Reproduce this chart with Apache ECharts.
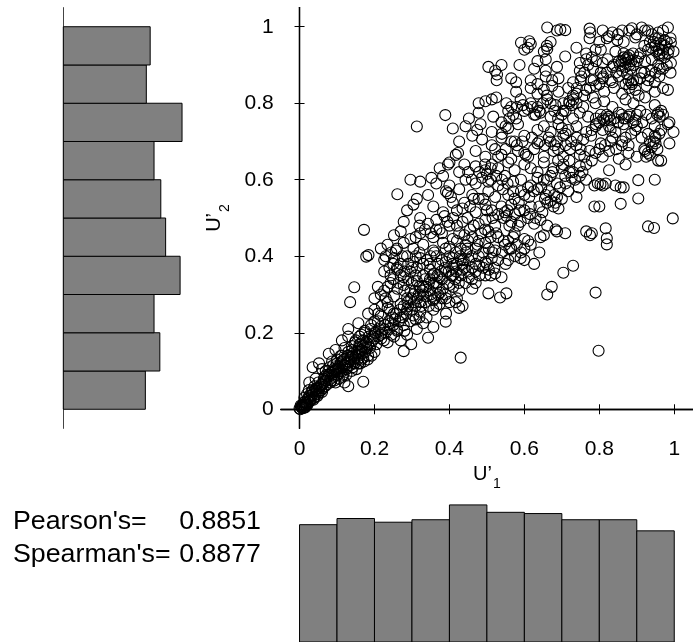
<!DOCTYPE html>
<html><head><meta charset="utf-8">
<script src="https://cdn.jsdelivr.net/npm/echarts@6/dist/echarts.min.js"></script>
<style>html,body{margin:0;padding:0;background:#fff}#c{width:693px;height:642px}</style>
</head><body><div id="c"></div>
<script>
const xTicks=[0,0.2,0.4,0.6,0.8,1];
const yTicks=[0,0.2,0.4,0.6,0.8,1];
const binEdges=[0,0.1,0.2,0.3,0.4,0.5,0.6,0.7,0.8,0.9,1];
const histU2=[85,100,94,121,106,101,94,123,86,90];
const histU1=[95,100,97,99,111,105,104,99,99,90];
const pearsonLabel="Pearson's=", pearsonValue="0.8851";
const spearmanLabel="Spearman's=", spearmanValue="0.8877";

const ptsTop=[[0.661,0.998],[0.687,0.99],[0.696,0.993],[0.709,0.991],[0.774,0.995],[0.776,0.985],[0.809,0.99],[0.835,0.985],[0.861,0.99],[0.887,0.996],[0.913,0.998],[0.922,0.99],[0.957,0.985],[0.983,0.998],[0.97,0.99],
[0.591,0.958],[0.613,0.962],[0.617,0.955],[0.67,0.96],[0.774,0.97],[0.826,0.975],[0.848,0.965],[0.896,0.972],[0.935,0.96],[0.957,0.97],[0.974,0.965],[0.991,0.958],[0.66,0.95],[0.865,0.96],
[0.6,0.94],[0.609,0.945],[0.652,0.935],[0.661,0.942],[0.739,0.945],[0.765,0.93],[0.804,0.94],[0.843,0.935],[0.865,0.93],[0.939,0.945],[0.952,0.935],[0.97,0.94],[0.983,0.93],[0.998,0.935],[0.96,0.925],[0.975,0.95],
[0.635,0.91],[0.657,0.915],[0.709,0.922],[0.748,0.905],[0.765,0.915],[0.791,0.91],[0.809,0.905],[0.822,0.915],[0.839,0.9],[0.852,0.91],[0.865,0.92],[0.87,0.905],[0.878,0.915],[0.891,0.9],[0.904,0.92],[0.922,0.91],[0.957,0.9],[0.974,0.92],[0.991,0.905],[0.87,0.895],[0.88,0.925],[0.96,0.93],[0.94,0.915],
[0.504,0.895],[0.522,0.885],[0.539,0.9],[0.527,0.875],[0.587,0.9],[0.626,0.89],[0.657,0.885],[0.687,0.895],[0.748,0.885],[0.783,0.89],[0.804,0.88],[0.835,0.895],[0.861,0.885],[0.883,0.89],[0.913,0.88],[0.939,0.885],[0.961,0.89],[0.875,0.875],
[0.526,0.86],[0.565,0.865],[0.578,0.855],[0.617,0.86],[0.635,0.85],[0.657,0.87],[0.674,0.86],[0.691,0.865],[0.73,0.855],[0.752,0.87],[0.778,0.86],[0.809,0.865],[0.835,0.855],[0.852,0.87],[0.878,0.86],[0.887,0.85],[0.909,0.865],[0.935,0.87],[0.948,0.855],[0.983,0.835],[0.885,0.855],[0.89,0.86],
[0.578,0.83],[0.617,0.84],[0.635,0.825],[0.652,0.835],[0.674,0.845],[0.691,0.83],[0.717,0.84],[0.739,0.825],[0.765,0.835],[0.791,0.845],[0.813,0.83],[0.839,0.84],[0.861,0.825],[0.896,0.835],[0.926,0.845],[0.948,0.83],[0.97,0.84],[0.905,0.82],
[0.478,0.8],[0.496,0.805],[0.513,0.81],[0.525,0.815],[0.552,0.8],[0.565,0.79],[0.596,0.795],[0.617,0.8],[0.635,0.79],[0.661,0.81],[0.683,0.795],[0.704,0.8],[0.72,0.805],[0.726,0.795],[0.73,0.81],[0.739,0.8],[0.757,0.79],[0.783,0.815],[0.79,0.8],[0.813,0.805],[0.835,0.79],[0.87,0.81],[0.891,0.8],[0.922,0.815],[0.948,0.795],
[0.76,0.82],[0.775,0.84],[0.785,0.86],[0.8,0.85],[0.81,0.87],[0.82,0.88],[0.83,0.86],[0.845,0.88],[0.855,0.9],[0.86,0.91],[0.87,0.915],[0.875,0.92],[0.88,0.9],[0.885,0.91],[0.89,0.93],[0.9,0.91],[0.91,0.93],[0.92,0.95],[0.93,0.94],[0.945,0.96],[0.95,0.95],[0.96,0.94],[0.965,0.955],[0.97,0.93],[0.98,0.96],[0.985,0.94],[0.99,0.97],[0.95,0.97],[0.94,0.98],[0.93,0.99],[0.9,0.98],[0.88,0.99],[0.85,0.98],[0.82,0.97],[0.8,0.96],[0.79,0.94],[0.78,0.92],[0.77,0.9],[0.76,0.88],[0.75,0.86],[0.74,0.84],[0.73,0.82],[0.72,0.8],[0.71,0.78],[0.67,0.8],[0.66,0.82],[0.65,0.8],[0.59,0.81],
[0.87,0.85],[0.88,0.84],[0.9,0.86],[0.92,0.88],[0.93,0.86],[0.95,0.88],[0.96,0.87],[0.97,0.89],[0.98,0.9],[0.99,0.88]];

const ptsUpperMid=[[0.389,0.769],[0.452,0.76],[0.478,0.775],[0.517,0.765],[0.557,0.78],[0.578,0.76],[0.609,0.785],[0.626,0.77],[0.643,0.775],[0.67,0.765],[0.704,0.78],[0.73,0.76],[0.748,0.775],[0.77,0.765],[0.791,0.76],[0.804,0.77],[0.813,0.755],[0.826,0.765],[0.852,0.775],[0.865,0.76],[0.878,0.765],[0.896,0.755],[0.909,0.78],[0.957,0.775],[0.961,0.765],[0.97,0.77],[0.987,0.75],[0.82,0.76],[0.83,0.755],
[0.313,0.739],[0.409,0.734],[0.443,0.74],[0.474,0.73],[0.483,0.745],[0.513,0.725],[0.539,0.75],[0.557,0.735],[0.583,0.745],[0.635,0.73],[0.652,0.74],[0.67,0.725],[0.691,0.745],[0.717,0.73],[0.739,0.74],[0.765,0.725],[0.791,0.745],[0.809,0.73],[0.826,0.74],[0.843,0.725],[0.865,0.745],[0.896,0.73],[0.93,0.72],[0.948,0.74],[0.965,0.73],[0.983,0.745],[0.998,0.725],[0.7,0.735],[0.71,0.72],
[0.426,0.7],[0.461,0.715],[0.487,0.705],[0.513,0.69],[0.539,0.71],[0.574,0.7],[0.6,0.715],[0.635,0.695],[0.665,0.71],[0.687,0.7],[0.704,0.715],[0.739,0.69],[0.757,0.705],[0.778,0.715],[0.804,0.695],[0.835,0.71],[0.861,0.7],[0.878,0.69],[0.913,0.71],[0.935,0.7],[0.948,0.715],[0.987,0.695],[0.94,0.685],[0.95,0.695],
[0.417,0.665],[0.423,0.67],[0.47,0.675],[0.496,0.66],[0.522,0.68],[0.539,0.665],[0.565,0.655],[0.583,0.675],[0.604,0.665],[0.626,0.68],[0.652,0.66],[0.678,0.675],[0.704,0.66],[0.722,0.68],[0.748,0.665],[0.774,0.675],[0.809,0.66],[0.826,0.675],[0.852,0.655],[0.878,0.67],[0.9,0.66],[0.922,0.675],[0.935,0.665],[0.957,0.65],[0.6,0.67],[0.61,0.66],
[0.374,0.63],[0.396,0.64],[0.4,0.645],[0.426,0.62],[0.47,0.635],[0.496,0.625],[0.513,0.64],[0.53,0.63],[0.557,0.645],[0.574,0.625],[0.6,0.64],[0.617,0.63],[0.635,0.62],[0.652,0.645],[0.678,0.63],[0.704,0.64],[0.73,0.62],[0.748,0.635],[0.826,0.625],[0.87,0.64],[0.965,0.65],[0.5,0.615],[0.51,0.6],
[0.7,0.77],[0.69,0.76],[0.68,0.78],[0.64,0.78],[0.63,0.77],[0.62,0.79],[0.6,0.78],[0.58,0.79],[0.57,0.77],[0.56,0.76],[0.55,0.74],[0.54,0.72],
[0.86,0.77],[0.87,0.76],[0.88,0.77],[0.89,0.75],[0.9,0.77],[0.84,0.76],[0.85,0.75],[0.83,0.73],[0.82,0.77],[0.81,0.76],[0.8,0.75],[0.79,0.74],[0.78,0.73],[0.95,0.71],[0.96,0.72],[0.945,0.7],[0.955,0.68],[0.92,0.68],[0.925,0.66],[0.93,0.67],
[0.53,0.66],[0.55,0.68],[0.565,0.7],[0.58,0.69],[0.595,0.7],[0.62,0.71],[0.64,0.7],[0.655,0.69],[0.67,0.7],[0.68,0.69],[0.69,0.68],[0.71,0.69],[0.725,0.7],[0.74,0.71],[0.75,0.68],[0.76,0.66],[0.78,0.65],[0.79,0.67],[0.8,0.68],[0.815,0.69],[0.83,0.7],[0.845,0.68],[0.86,0.69],[0.87,0.71],[0.885,0.72],[0.9,0.74],[0.915,0.75],[0.925,0.77],[0.94,0.76],[0.955,0.77],[0.965,0.78]];

const ptsMiddle=[[0.296,0.6],[0.322,0.595],[0.352,0.605],[0.365,0.59],[0.383,0.61],[0.4,0.585],[0.443,0.6],[0.47,0.59],[0.487,0.605],[0.504,0.595],[0.53,0.585],[0.548,0.61],[0.57,0.595],[0.591,0.6],[0.617,0.585],[0.635,0.605],[0.652,0.6],[0.67,0.61],[0.687,0.59],[0.709,0.61],[0.726,0.605],[0.748,0.61],[0.765,0.6],[0.787,0.585],[0.796,0.59],[0.803,0.588],[0.809,0.585],[0.817,0.59],[0.843,0.585],[0.857,0.58],[0.865,0.58],[0.904,0.599],[0.948,0.6],
[0.261,0.562],[0.313,0.55],[0.343,0.56],[0.391,0.57],[0.396,0.565],[0.404,0.555],[0.426,0.575],[0.461,0.56],[0.478,0.55],[0.504,0.57],[0.522,0.555],[0.543,0.575],[0.557,0.56],[0.574,0.55],[0.591,0.57],[0.613,0.555],[0.635,0.575],[0.657,0.56],[0.67,0.545],[0.687,0.555],[0.7,0.55],[0.717,0.57],[0.739,0.555],[0.787,0.53],[0.8,0.53],[0.904,0.551],
[0.287,0.52],[0.304,0.535],[0.357,0.53],[0.383,0.515],[0.409,0.54],[0.435,0.525],[0.47,0.515],[0.496,0.535],[0.513,0.52],[0.539,0.53],[0.548,0.515],[0.555,0.52],[0.565,0.535],[0.587,0.52],[0.617,0.53],[0.648,0.515],[0.661,0.54],[0.678,0.53],[0.683,0.54],[0.691,0.525],[0.857,0.537],
[0.278,0.49],[0.322,0.5],[0.343,0.485],[0.365,0.495],[0.387,0.505],[0.4,0.48],[0.448,0.5],[0.478,0.485],[0.496,0.495],[0.522,0.48],[0.552,0.505],[0.565,0.49],[0.583,0.48],[0.609,0.5],[0.626,0.485],[0.643,0.495],[0.661,0.48],[0.683,0.47],[0.709,0.46],[0.817,0.473],[0.93,0.478],[0.946,0.474],[0.996,0.499],[0.765,0.465],[0.775,0.455],[0.78,0.46],
[0.172,0.469],[0.252,0.455],[0.27,0.465],[0.296,0.445],[0.322,0.46],[0.357,0.45],[0.374,0.47],[0.409,0.445],[0.426,0.46],[0.461,0.45],[0.478,0.44],[0.504,0.465],[0.53,0.45],[0.557,0.44],[0.574,0.46],[0.6,0.445],[0.643,0.45],[0.652,0.455],[0.687,0.465],[0.82,0.447],[0.82,0.431],[0.44,0.455],[0.45,0.44],
[0.42,0.52],[0.44,0.54],[0.455,0.53],[0.465,0.55],[0.49,0.55],[0.5,0.52],[0.515,0.5],[0.53,0.51],[0.545,0.5],[0.56,0.48],[0.575,0.51],[0.59,0.49],[0.6,0.52],[0.615,0.51],[0.63,0.5],[0.64,0.53],[0.655,0.55],[0.665,0.57],[0.68,0.56],[0.695,0.58],[0.71,0.59],[0.72,0.62],[0.735,0.6],[0.745,0.58],[0.755,0.62],[0.765,0.64],[0.72,0.65],[0.7,0.63],[0.69,0.65],[0.675,0.62],[0.66,0.6],[0.645,0.58],[0.625,0.57],[0.61,0.58],[0.6,0.56],[0.585,0.54],[0.57,0.57],[0.555,0.59],[0.54,0.6],[0.525,0.61],[0.51,0.63],[0.495,0.64],[0.48,0.62],[0.46,0.6],[0.45,0.62],[0.44,0.64],
[0.57,0.45],[0.545,0.44],[0.525,0.46],[0.51,0.45],[0.495,0.47],[0.485,0.46],[0.465,0.48],[0.455,0.47],[0.435,0.49],[0.42,0.48],[0.41,0.5],[0.395,0.49],[0.38,0.46],[0.365,0.47],[0.35,0.46],[0.335,0.47],[0.32,0.48],[0.31,0.45]];

const ptsLowerMid=[[0.217,0.42],[0.235,0.43],[0.257,0.415],[0.278,0.435],[0.304,0.42],[0.33,0.43],[0.357,0.415],[0.383,0.435],[0.4,0.425],[0.417,0.41],[0.443,0.43],[0.47,0.42],[0.496,0.435],[0.522,0.415],[0.548,0.43],[0.565,0.42],[0.591,0.41],[0.617,0.43],[0.64,0.41],[0.42,0.44],[0.43,0.42],
[0.178,0.399],[0.184,0.403],[0.226,0.39],[0.252,0.395],[0.27,0.38],[0.287,0.4],[0.304,0.385],[0.322,0.395],[0.348,0.38],[0.365,0.4],[0.391,0.385],[0.409,0.395],[0.435,0.38],[0.452,0.39],[0.478,0.4],[0.496,0.385],[0.513,0.395],[0.557,0.39],[0.59,0.395],[0.6,0.39],[0.626,0.38],[0.73,0.375],[0.46,0.37],[0.47,0.38],[0.48,0.375],
[0.226,0.36],[0.243,0.35],[0.261,0.365],[0.278,0.345],[0.296,0.36],[0.313,0.37],[0.33,0.35],[0.348,0.365],[0.374,0.345],[0.391,0.36],[0.409,0.35],[0.435,0.365],[0.452,0.345],[0.47,0.36],[0.496,0.35],[0.505,0.365],[0.522,0.355],[0.539,0.345],[0.704,0.357],[0.36,0.355],
[0.146,0.319],[0.209,0.32],[0.226,0.31],[0.243,0.33],[0.261,0.315],[0.278,0.325],[0.296,0.31],[0.313,0.335],[0.33,0.32],[0.348,0.31],[0.365,0.33],[0.383,0.315],[0.4,0.325],[0.426,0.31],[0.443,0.33],[0.461,0.315],[0.673,0.32],[0.79,0.305],[0.375,0.305],[0.39,0.3],[0.41,0.32],
[0.235,0.32],[0.25,0.34],[0.265,0.33],[0.28,0.31],[0.29,0.34],[0.3,0.33],[0.31,0.35],[0.32,0.32],[0.335,0.34],[0.345,0.33],[0.355,0.35],[0.365,0.32],[0.38,0.34],[0.395,0.33],[0.405,0.35],[0.415,0.34],[0.425,0.33],[0.43,0.35],[0.44,0.37],[0.45,0.36],[0.46,0.34],[0.47,0.33],[0.48,0.35],[0.49,0.37],[0.5,0.38],[0.51,0.35],[0.52,0.37],[0.53,0.39],[0.515,0.41],[0.505,0.42],[0.49,0.41],[0.475,0.43],[0.46,0.4],[0.445,0.41],[0.43,0.39],[0.42,0.38],[0.41,0.37],[0.4,0.4],[0.39,0.42],[0.38,0.39],[0.37,0.38],[0.36,0.41],[0.35,0.4],[0.34,0.39],[0.33,0.38],[0.32,0.41],[0.31,0.4],[0.3,0.37],[0.29,0.38],[0.28,0.36],[0.27,0.35],[0.26,0.37],[0.25,0.38],[0.24,0.37],[0.23,0.4],[0.245,0.41],[0.26,0.42],[0.275,0.4],[0.54,0.41],[0.55,0.38],[0.56,0.42],[0.575,0.4],[0.58,0.43],[0.6,0.42],[0.61,0.44]];

const ptsLow=[[0.135,0.28],[0.2,0.29],[0.217,0.3],[0.235,0.28],[0.252,0.295],[0.27,0.275],[0.287,0.29],[0.304,0.3],[0.322,0.28],[0.339,0.295],[0.357,0.285],[0.374,0.275],[0.391,0.29],[0.417,0.28],[0.435,0.27],[0.504,0.303],[0.535,0.292],[0.552,0.303],[0.661,0.3],[0.4,0.28],[0.42,0.29],
[0.183,0.25],[0.2,0.26],[0.217,0.245],[0.235,0.265],[0.252,0.25],[0.27,0.24],[0.287,0.26],[0.304,0.245],[0.322,0.255],[0.339,0.24],[0.357,0.26],[0.391,0.25],[0.426,0.265],[0.31,0.235],[0.32,0.24],
[0.13,0.21],[0.157,0.225],[0.174,0.205],[0.191,0.22],[0.209,0.23],[0.226,0.21],[0.243,0.225],[0.261,0.205],[0.278,0.22],[0.296,0.23],[0.313,0.21],[0.33,0.225],[0.357,0.215],[0.39,0.229],[0.2,0.2],[0.215,0.215],
[0.113,0.18],[0.13,0.19],[0.148,0.175],[0.165,0.195],[0.183,0.17],[0.2,0.185],[0.217,0.195],[0.235,0.175],[0.252,0.19],[0.27,0.18],[0.287,0.195],[0.298,0.17],[0.343,0.187],[0.14,0.165],[0.16,0.17],[0.17,0.18],
[0.078,0.145],[0.096,0.155],[0.113,0.14],[0.13,0.15],[0.148,0.135],[0.165,0.155],[0.183,0.14],[0.2,0.15],[0.278,0.152],[0.43,0.135],[0.12,0.16],[0.14,0.145],[0.155,0.13],[0.17,0.135],[0.798,0.153],
[0.035,0.11],[0.052,0.12],[0.07,0.1],[0.087,0.125],[0.104,0.105],[0.122,0.115],[0.139,0.1],[0.157,0.12],[0.06,0.105],[0.08,0.11],[0.095,0.1],[0.11,0.12],[0.13,0.125],[0.1,0.13],[0.09,0.115],
[0.026,0.07],[0.043,0.08],[0.061,0.065],[0.078,0.09],[0.096,0.07],[0.113,0.085],[0.13,0.06],[0.17,0.072],[0.05,0.07],[0.065,0.08],[0.085,0.075],[0.1,0.09],[0.12,0.07],[0.04,0.06],[0.07,0.075],
[0.013,0.03],[0.02,0.04],[0.026,0.035],[0.035,0.05],[0.043,0.04],[0.052,0.055],[0.06,0.045],[0.03,0.025],[0.04,0.03],[0.05,0.04],[0.025,0.05],[0.015,0.02],
[0,0.002],[0.005,0.005],[0.01,0.008],[0.015,0.012],[0.02,0.015],[0.008,0.003],[0.003,0.01],[0.012,0.018],[0.018,0.01],[0.025,0.02],
[0.085,0.095],[0.095,0.11],[0.105,0.095],[0.115,0.1],[0.125,0.105],[0.118,0.13],[0.128,0.14],[0.135,0.115],[0.145,0.125],[0.15,0.14],[0.16,0.15],[0.165,0.13],[0.175,0.15],[0.18,0.16],[0.19,0.17],[0.185,0.19],[0.195,0.18],[0.205,0.17],[0.21,0.19],[0.22,0.2],[0.225,0.18],[0.23,0.2],[0.24,0.21],[0.245,0.195],[0.25,0.22],[0.255,0.235],[0.26,0.21],[0.265,0.23],[0.275,0.24],[0.28,0.205],[0.285,0.25],[0.29,0.27],[0.3,0.26],[0.305,0.28],[0.31,0.27],[0.315,0.29],[0.325,0.27],[0.33,0.3],[0.335,0.28],[0.345,0.27],[0.35,0.3],[0.36,0.29],[0.365,0.27],[0.37,0.3],[0.38,0.29],[0.24,0.26],[0.23,0.29],[0.22,0.27],[0.21,0.25],[0.2,0.23],[0.19,0.21],[0.175,0.2],[0.16,0.19],[0.15,0.18],[0.14,0.155],[0.13,0.14],[0.12,0.13],[0.11,0.14],[0.1,0.12],[0.09,0.1],[0.075,0.085],[0.065,0.07],[0.055,0.06],[0.045,0.055],[0.035,0.04],[0.022,0.028],[0.028,0.022],[0.032,0.045],[0.008,0.012],[0.015,0.005],[0.038,0.03],[0.046,0.048],[0.058,0.05],[0.068,0.06],[0.072,0.09],[0.082,0.07],[0.092,0.085],[0.105,0.08],[0.115,0.11],[0.125,0.09],[0.142,0.11],[0.152,0.105],[0.162,0.12],[0.172,0.125],[0.182,0.13],[0.192,0.14],[0.158,0.16],[0.168,0.165]];

const ptsDiagonal=[[0.002,0.0],[0.006,0.009],[0.011,0.004],[0.016,0.016],[0.021,0.011],[0.027,0.03],[0.033,0.036],[0.037,0.025],[0.042,0.05],[0.048,0.035],[0.053,0.045],[0.057,0.065],[0.062,0.055],[0.067,0.085],[0.073,0.065],[0.077,0.1],[0.083,0.08],[0.088,0.09],[0.093,0.075],[0.098,0.105],[0.103,0.11],[0.108,0.1],[0.112,0.125],[0.117,0.09],[0.123,0.12],[0.127,0.11],[0.133,0.13],[0.138,0.135],[0.143,0.14],[0.147,0.12],[0.153,0.15],[0.158,0.14],[0.163,0.17],[0.167,0.145],[0.173,0.16],[0.178,0.175],[0.188,0.16],[0.196,0.19],[0.203,0.2],[0.212,0.21],[0.218,0.185],[0.228,0.22],[0.238,0.23],[0.248,0.24],[0.258,0.25],[0.268,0.26],[0.278,0.27],[0.288,0.28],[0.298,0.29],[0.308,0.31],[0.318,0.3],[0.328,0.31],[0.338,0.32],[0.348,0.34],[0.358,0.33],[0.368,0.35],[0.378,0.36],[0.388,0.37],[0.398,0.36],[0.408,0.38],[0.418,0.36],[0.428,0.4],[0.438,0.39],[0.448,0.42]];

const scatterPts=[].concat(ptsTop,ptsUpperMid,ptsMiddle,ptsLowerMid,ptsLow,ptsDiagonal);

const FONT='"Liberation Sans", Arial, Helvetica, sans-serif';
const histU2Data=histU2.map((c,i)=>[binEdges[i],binEdges[i+1],c]);
const histU1Data=histU1.map((c,i)=>[binEdges[i],binEdges[i+1],c]);
const barStyle={fill:'#808080',stroke:'#000',lineWidth:1};

function leftRect(params,api){
  const lo=api.value(0),hi=api.value(1),c=api.value(2);
  const a=api.coord([0,hi]),b=api.coord([c,lo]);
  return {type:'rect',shape:{x:a[0],y:a[1],width:b[0]-a[0],height:b[1]-a[1]},style:barStyle};
}
function bottomRect(params,api){
  const lo=api.value(0),hi=api.value(1),c=api.value(2);
  const a=api.coord([lo,c]),b=api.coord([hi,0]);
  return {type:'rect',shape:{x:a[0],y:a[1],width:b[0]-a[0],height:b[1]-a[1]},style:barStyle};
}

const axLine={show:true,lineStyle:{color:'#000',width:1.3}};
const tickIn=(vals)=>({show:true,inside:true,length:5,customValues:vals,lineStyle:{color:'#000',width:1}});
const hidden={show:false};
const nameRich={u:{fontSize:20,fontFamily:FONT,color:'#000',verticalAlign:'top',lineHeight:22},s:{fontSize:14,fontFamily:FONT,color:'#000',verticalAlign:'top',lineHeight:14,padding:[13,0,0,1]}};

const chart=echarts.init(document.getElementById('c'),null,{renderer:'canvas'});
chart.setOption({
  animation:false,
  backgroundColor:'#fff',
  textStyle:{fontFamily:FONT},
  grid:[
    {left:280.8,top:7.6,width:421.7,height:420.8,containLabel:false},
    {left:63.3,top:7.6,width:144.8,height:420.8,containLabel:false},
    {left:280.8,top:493.8,width:421.7,height:206.2,containLabel:false}
  ],
  xAxis:[
    {gridIndex:0,type:'value',min:-0.05,max:1.05,position:'bottom',axisLine:axLine,axisTick:tickIn(xTicks),
     axisLabel:{show:true,customValues:xTicks,margin:10,color:'#000',fontSize:21,fontFamily:FONT},splitLine:hidden,
     name:"{u|U’}{s|1}",nameLocation:'middle',nameGap:33,nameTextStyle:{rich:nameRich}},
    {gridIndex:0,type:'value',min:-0.05,max:1.05,position:'top',axisLine:axLine,axisTick:tickIn(xTicks),axisLabel:hidden,splitLine:hidden},
    {gridIndex:1,type:'value',min:0,max:150,show:false,splitLine:hidden},
    {gridIndex:2,type:'value',min:-0.05,max:1.05,show:false,splitLine:hidden}
  ],
  yAxis:[
    {gridIndex:0,type:'value',min:-0.05,max:1.05,position:'left',axisLine:axLine,axisTick:tickIn(yTicks),
     axisLabel:{show:true,customValues:yTicks,margin:7,color:'#000',fontSize:21,fontFamily:FONT},splitLine:hidden,
     name:"{u|U’}{s|2}",nameLocation:'middle',nameGap:54,nameRotate:90,nameTextStyle:{rich:nameRich}},
    {gridIndex:0,type:'value',min:-0.05,max:1.05,position:'right',axisLine:axLine,axisTick:tickIn(yTicks),axisLabel:hidden,splitLine:hidden},
    {gridIndex:1,type:'value',min:-0.05,max:1.05,position:'left',axisLine:{show:true,lineStyle:{color:'#444',width:1}},axisTick:hidden,axisLabel:hidden,splitLine:hidden},
    {gridIndex:2,type:'value',min:0,max:120,show:false,splitLine:hidden}
  ],
  graphic:[
    {type:'text',x:13,y:522,scaleX:1.07,style:{text:pearsonLabel,font:'25px '+FONT,fill:'#000',align:'left',verticalAlign:'middle'}},
    {type:'text',x:261,y:522,scaleX:1.07,style:{text:pearsonValue,font:'25px '+FONT,fill:'#000',align:'right',verticalAlign:'middle'}},
    {type:'text',x:13,y:555,scaleX:1.07,style:{text:spearmanLabel,font:'25px '+FONT,fill:'#000',align:'left',verticalAlign:'middle'}},
    {type:'text',x:261,y:555,scaleX:1.07,style:{text:spearmanValue,font:'25px '+FONT,fill:'#000',align:'right',verticalAlign:'middle'}}
  ],
  series:[
    {type:'scatter',xAxisIndex:0,yAxisIndex:0,data:scatterPts,symbol:'circle',symbolSize:11,silent:true,
     itemStyle:{color:'rgba(0,0,0,0)',borderColor:'#000',borderWidth:1.1,opacity:1}},
    {type:'custom',xAxisIndex:2,yAxisIndex:2,data:histU2Data,encode:{x:2,y:[0,1]},renderItem:leftRect,silent:true},
    {type:'custom',xAxisIndex:3,yAxisIndex:3,data:histU1Data,encode:{x:[0,1],y:2},renderItem:bottomRect,silent:true}
  ]
});
</script></body></html>
